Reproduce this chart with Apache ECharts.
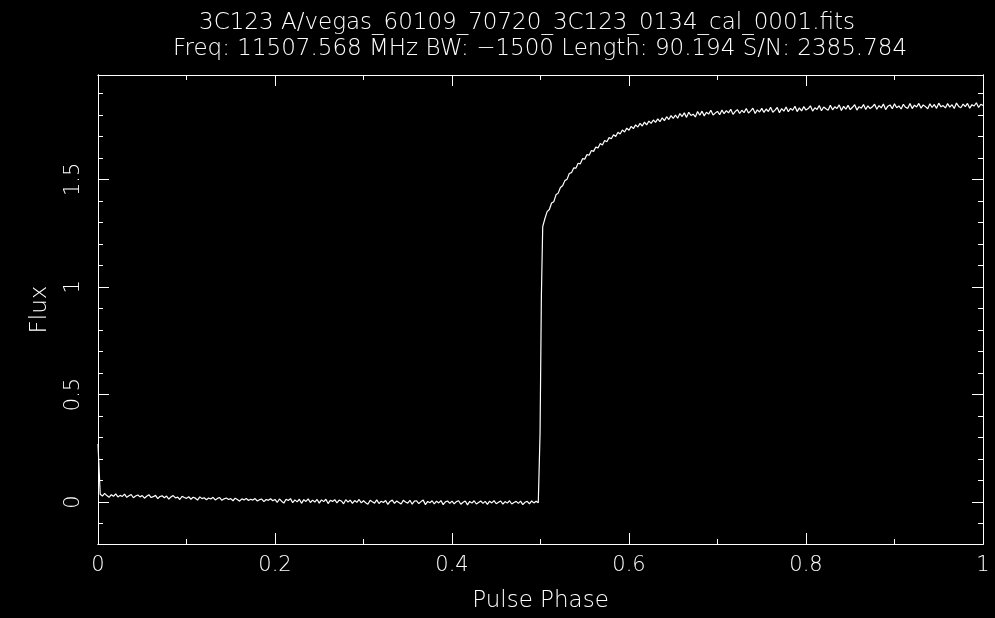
<!DOCTYPE html>
<html>
<head>
<meta charset="utf-8">
<title>3C123 cal profile</title>
<script src="https://cdn.jsdelivr.net/npm/echarts@6/dist/echarts.min.js"></script>
<style>
  html, body { margin: 0; padding: 0; background: #000; }
  #chart { width: 995px; height: 618px; }
</style>
</head>
<body>
<div id="chart"></div>
<script>
// Header lines
const titleLine1 = '3C123 A/vegas_60109_70720_3C123_0134_cal_0001.fits';
const titleLine2 = 'Freq: 11507.568 MHz BW: \u22121500 Length: 90.194 S/N: 2385.784';

// Axis ticks
const xMajorTicks = [0, 0.2, 0.4, 0.6, 0.8, 1];
const xMinorTicks = [0.1, 0.3, 0.5, 0.7, 0.9];
const yMajorTicks = [0, 0.5, 1, 1.5];
const yMinorTicks = [-0.1, 0.1, 0.2, 0.3, 0.4, 0.6, 0.7, 0.8, 0.9, 1.1, 1.2, 1.3, 1.4, 1.6, 1.7, 1.8, 1.9];

// Off-pulse flux, phase 0 .. 0.4975 in steps of 0.0025
const offStart = 0, offStep = 0.0025;
const offFlux = [
  0.270, 0.036, 0.028, 0.040, 0.030, 0.022, 0.034, 0.027, 0.038, 0.024,
  0.031, 0.026, 0.037, 0.022, 0.029, 0.035, 0.020, 0.028, 0.033, 0.024,
  0.030, 0.018, 0.027, 0.034, 0.021, 0.025, 0.031, 0.016, 0.026, 0.029,
  0.020, 0.028, 0.014, 0.024, 0.030, 0.019, 0.023, 0.012, 0.027, 0.021,
  0.017, 0.025, 0.013, 0.022, 0.018, 0.009, 0.024, 0.016, 0.020, 0.011,
  0.019, 0.014, 0.022, 0.010, 0.017, 0.021, 0.008, 0.015, 0.019, 0.012,
  0.016, 0.006, 0.018, 0.012, 0.004, 0.015, 0.010, 0.017, 0.007, 0.013,
  0.009, 0.016, 0.005, 0.011, 0.014, 0.002, 0.012, 0.008, 0.015, 0.006,
  0.012, -0.002, 0.014, 0.004, -0.005, 0.013, 0.007, 0.016, -0.003, 0.010,
  0.001, 0.013, -0.006, 0.011, 0.003, 0.015, -0.002, 0.009, 0.000, 0.012,
  -0.005, 0.010, 0.002, 0.013, -0.007, 0.008, 0.003, 0.011, -0.004, 0.009,
  0.005, -0.008, 0.011, 0.000, 0.009, -0.006, 0.007, -0.001, 0.012, -0.004,
  0.006, -0.003, -0.010, 0.008, 0.001, -0.005, 0.010, -0.007, 0.004, -0.002,
  0.007, -0.011, 0.003, 0.009, -0.006, 0.005, -0.002, -0.009, 0.008, 0.000,
  -0.005, 0.008, -0.010, 0.004, 0.006, -0.007, 0.002, 0.009, -0.012, 0.003,
  -0.003, 0.006, -0.009, 0.004, -0.004, 0.007, -0.012, 0.001, 0.005, -0.006,
  0.004, -0.008, 0.002, 0.006, -0.010, -0.001, 0.005, -0.013, 0.003, -0.005,
  0.006, -0.009, -0.002, 0.005, -0.006, 0.003, -0.011, 0.004, -0.004, 0.007,
  -0.008, -0.001, 0.005, -0.010, 0.002, -0.005, 0.006, -0.009, -0.002, 0.003,
  -0.006, 0.004, -0.012, -0.001, 0.003, -0.008, 0.005, -0.004, 0.004, -0.003
];

// Switch-on edge of the noise diode
const edgePhase = [0.4985, 0.4995, 0.5010, 0.5025];
const edgeFlux = [0.002, 0.320, 0.960, 1.280];

// On-pulse flux, phase 0.505 .. 1.0 in steps of 0.0025
const onStart = 0.505, onStep = 0.0025;
const onFlux = [
  1.318, 1.350, 1.360, 1.390, 1.396, 1.428, 1.436, 1.462, 1.470, 1.494,
  1.500, 1.527, 1.531, 1.553, 1.552, 1.575, 1.572, 1.596, 1.594, 1.615,
  1.612, 1.634, 1.630, 1.650, 1.646, 1.667, 1.660, 1.681, 1.675, 1.694,
  1.689, 1.707, 1.699, 1.719, 1.711, 1.729, 1.720, 1.738, 1.728, 1.746,
  1.736, 1.753, 1.743, 1.760, 1.748, 1.766, 1.753, 1.771, 1.760, 1.776,
  1.765, 1.781, 1.768, 1.786, 1.773, 1.791, 1.778, 1.796, 1.783, 1.799,
  1.784, 1.806, 1.792, 1.809, 1.788, 1.812, 1.797, 1.803, 1.790, 1.815,
  1.798, 1.817, 1.795, 1.812, 1.803, 1.821, 1.799, 1.808, 1.816, 1.800,
  1.822, 1.805, 1.819, 1.809, 1.826, 1.802, 1.815, 1.824, 1.806, 1.821,
  1.810, 1.829, 1.808, 1.818, 1.831, 1.806, 1.823, 1.813, 1.830, 1.811,
  1.827, 1.815, 1.835, 1.812, 1.822, 1.834, 1.810, 1.829, 1.817, 1.836,
  1.814, 1.830, 1.821, 1.840, 1.815, 1.832, 1.818, 1.838, 1.822, 1.829,
  1.842, 1.817, 1.833, 1.825, 1.843, 1.819, 1.836, 1.828, 1.821, 1.844,
  1.823, 1.837, 1.829, 1.846, 1.820, 1.839, 1.826, 1.844, 1.824, 1.835,
  1.847, 1.822, 1.838, 1.831, 1.848, 1.825, 1.842, 1.829, 1.837, 1.849,
  1.826, 1.843, 1.832, 1.850, 1.824, 1.840, 1.846, 1.828, 1.851, 1.833,
  1.841, 1.827, 1.849, 1.835, 1.830, 1.852, 1.829, 1.845, 1.836, 1.853,
  1.831, 1.846, 1.838, 1.828, 1.851, 1.834, 1.848, 1.830, 1.854, 1.837,
  1.843, 1.832, 1.852, 1.836, 1.847, 1.829, 1.855, 1.839, 1.833, 1.850,
  1.838, 1.853, 1.831, 1.847, 1.841, 1.856, 1.834, 1.849, 1.843
];

// Assemble [phase, flux] pairs
const profile = [];
offFlux.forEach((v, i) => profile.push([+(offStart + i * offStep).toFixed(4), v]));
edgeFlux.forEach((v, i) => profile.push([edgePhase[i], v]));
onFlux.forEach((v, i) => profile.push([+(onStart + i * onStep).toFixed(4), v]));

const FG = '#ffffff';
const FONT = 'DejaVu Sans';
const WEIGHT = 200;
const X_MIN = 0, X_MAX = 1;
const Y_MIN = -0.195, Y_MAX = 1.985;

function fmt(v) {
  return String(+v.toFixed(2));
}

function xAxisDef(position, ticks, len, opts) {
  return Object.assign({
    type: 'value', position: position, min: X_MIN, max: X_MAX,
    axisLine: { show: true, onZero: false, lineStyle: { color: FG, width: 1 } },
    axisTick: { show: true, inside: true, length: len, customValues: ticks, lineStyle: { color: FG, width: 1 } },
    axisLabel: { show: false },
    splitLine: { show: false }
  }, opts || {});
}

function yAxisDef(position, ticks, len, opts) {
  return Object.assign({
    type: 'value', position: position, min: Y_MIN, max: Y_MAX,
    axisLine: { show: true, onZero: false, lineStyle: { color: FG, width: 1 } },
    axisTick: { show: true, inside: true, length: len, customValues: ticks, lineStyle: { color: FG, width: 1 } },
    axisLabel: { show: false },
    splitLine: { show: false }
  }, opts || {});
}

const chart = echarts.init(document.getElementById('chart'), null, { renderer: 'canvas' });

const labelStyle = { color: FG, fontFamily: FONT, fontWeight: WEIGHT };

chart.setOption({
  backgroundColor: '#000',
  animation: false,
  grid: { left: 98, right: 12, top: 75, bottom: 74, containLabel: false },
  graphic: [
    { type: 'text', x: 527, y: 23, style: { text: titleLine1, fill: FG, font: WEIGHT + ' 23px "' + FONT + '"', textAlign: 'center', textVerticalAlign: 'middle' } },
    { type: 'text', x: 540, y: 49, style: { text: titleLine2, fill: FG, font: WEIGHT + ' 23px "' + FONT + '"', textAlign: 'center', textVerticalAlign: 'middle' } }
  ],
  xAxis: [
    xAxisDef('bottom', xMajorTicks, 11, {
      axisLabel: Object.assign({ show: true, customValues: xMajorTicks, fontSize: 21, margin: 11, formatter: fmt }, labelStyle),
      name: 'Pulse Phase', nameLocation: 'middle', nameGap: 46,
      nameTextStyle: Object.assign({ fontSize: 23 }, labelStyle)
    }),
    xAxisDef('bottom', xMinorTicks, 5),
    xAxisDef('top', xMajorTicks, 11),
    xAxisDef('top', xMinorTicks, 5)
  ],
  yAxis: [
    yAxisDef('left', yMajorTicks, 11, {
      axisLabel: Object.assign({ show: true, customValues: yMajorTicks, rotate: 90, fontSize: 21, margin: 14, formatter: fmt }, labelStyle),
      name: 'Flux', nameLocation: 'middle', nameGap: 46, nameRotate: 90,
      nameTextStyle: Object.assign({ fontSize: 23 }, labelStyle)
    }),
    yAxisDef('left', yMinorTicks, 5),
    yAxisDef('right', yMajorTicks, 11),
    yAxisDef('right', yMinorTicks, 5)
  ],
  series: [{
    type: 'line',
    xAxisIndex: 0,
    yAxisIndex: 0,
    data: profile,
    showSymbol: false,
    symbol: 'none',
    lineStyle: { color: FG, width: 1.2 },
    clip: true
  }]
});
</script>
</body>
</html>
